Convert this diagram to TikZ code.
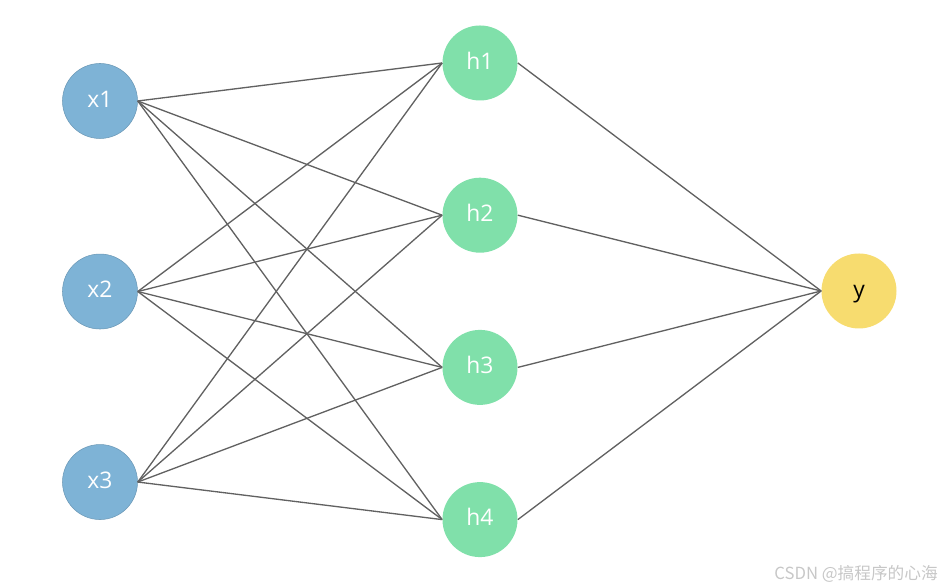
\documentclass[tikz,border=0pt]{standalone}
\usepackage{fontspec}
\setmainfont{Open Sans}
\newfontfamily\cjk{Noto Sans CJK SC}
\usetikzlibrary{positioning}
\definecolor{inblue}{HTML}{7EB3D6}
\definecolor{hidgreen}{HTML}{80E0AA}
\definecolor{outyellow}{HTML}{F7DC6F}
\definecolor{edgegray}{HTML}{616161}

\begin{document}
\begin{tikzpicture}[node distance=2.3cm]
  \tikzstyle{neuron}=[circle,minimum size=1.5cm,inner sep=0pt,text height=0.8em,text depth=0.09em,font=\fontsize{13}{15}\selectfont]
  \tikzstyle{edge}=[draw=edgegray,line width=0.75pt]
  \useasboundingbox (0,0) rectangle (18.96,11.76);
  % input layer
  \node[neuron,fill=inblue,draw=inblue!85!black,line width=0.3pt,text=white] (x1) at (2.0,9.74) {x1};
  \node[neuron,fill=inblue,draw=inblue!85!black,line width=0.3pt,text=white,below=of x1] (x2) {x2};
  \node[neuron,fill=inblue,draw=inblue!85!black,line width=0.3pt,text=white,below=of x2] (x3) {x3};
  % hidden layer
  \node[neuron,fill=hidgreen,text=white] (h1) at (9.6,10.5) {h1};
  \node[neuron,fill=hidgreen,text=white,below=1.53cm of h1] (h2) {h2};
  \node[neuron,fill=hidgreen,text=white,below=1.53cm of h2] (h3) {h3};
  \node[neuron,fill=hidgreen,text=white,below=1.53cm of h3] (h4) {h4};
  % output
  \node[neuron,fill=outyellow,text=black] (y) at (17.18,5.94) {y};
  \draw[edge] (x1.east) -- (h1.west);
  \draw[edge] (x1.east) -- (h2.west);
  \draw[edge] (x1.east) -- (h3.west);
  \draw[edge] (x1.east) -- (h4.west);
  \draw[edge] (x2.east) -- (h1.west);
  \draw[edge] (x2.east) -- (h2.west);
  \draw[edge] (x2.east) -- (h3.west);
  \draw[edge] (x2.east) -- (h4.west);
  \draw[edge] (x3.east) -- (h1.west);
  \draw[edge] (x3.east) -- (h2.west);
  \draw[edge] (x3.east) -- (h3.west);
  \draw[edge] (x3.east) -- (h4.west);
  \draw[edge] (h1.east) -- (y.west);
  \draw[edge] (h2.east) -- (y.west);
  \draw[edge] (h3.east) -- (y.west);
  \draw[edge] (h4.east) -- (y.west);
  \node[anchor=base east,text=black!22,font=\cjk\fontsize{9.5}{11}\selectfont] (mark) at (18.88,0.16) {CSDN @搞程序的心海};
\end{tikzpicture}
\end{document}
